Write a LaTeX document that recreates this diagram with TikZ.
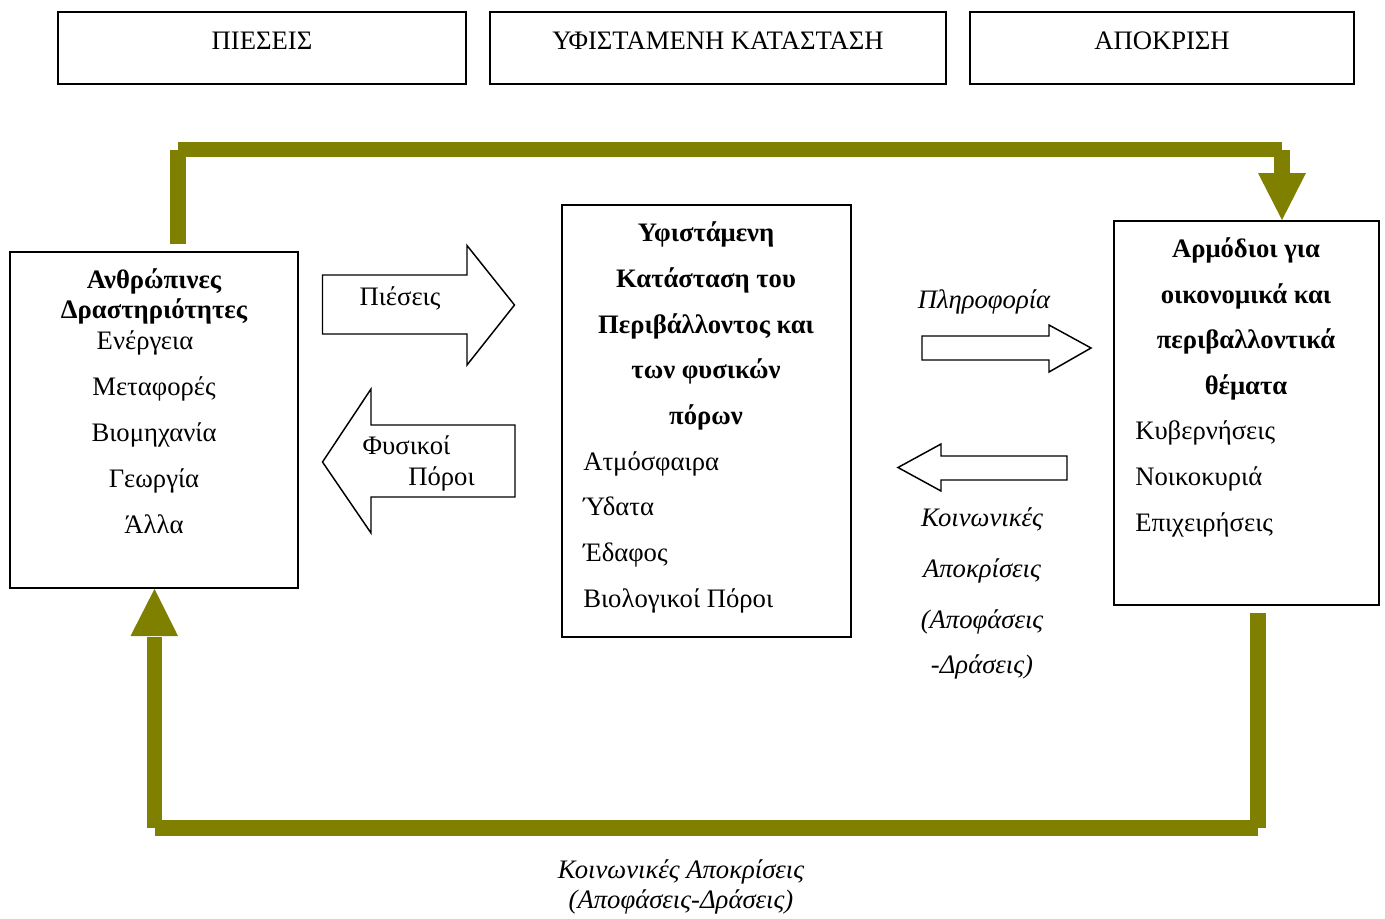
\documentclass[tikz,border=0pt]{standalone}
\usepackage{fontspec}
\setmainfont{Liberation Serif}
\usetikzlibrary{fit}
\definecolor{olivebar}{HTML}{808000}
\tikzset{
  box/.style={draw, line width=1.4pt, inner sep=0pt},
  txt/.style={inner sep=0pt, anchor=base, font=\fontsize{20}{24}\selectfont},
  txtl/.style={txt, anchor=base west},
  btxt/.style={txt, font=\fontsize{20}{24}\selectfont\bfseries},
  itxt/.style={txt, font=\fontsize{20}{24}\selectfont\itshape},
  barA/.style={draw=olivebar, line width=12pt, line cap=butt},
  barB/.style={draw=olivebar, line width=11.25pt, line cap=butt},
  barhead/.style={fill=olivebar, draw=none},
  blockarrow/.style={draw, line width=1.1pt, fill=white, line join=miter},
}
\begin{document}
\begin{tikzpicture}[x=0.75pt,y=-0.75pt]
\useasboundingbox (0,0) rectangle (1385,918);

% header boxes
\node[box, fit={(58,12) (466,84)}] (h1) {};
\node[box, fit={(490,12) (946,84)}] (h2) {};
\node[box, fit={(970,12) (1354,84)}] (h3) {};
\node[txt] (h1t) at (262,49) {ΠΙΕΣΕΙΣ};
\node[txt] (h2t) at (718,49) {ΥΦΙΣΤΑΜΕΝΗ ΚΑΤΑΣΤΑΣΗ};
\node[txt] (h3t) at (1162,49) {ΑΠΟΚΡΙΣΗ};

% main boxes
\node[box, fit={(10,252) (298,588)}] (left) {};
\node[box, fit={(562,205) (851,637)}] (mid) {};
\node[box, fit={(1114,221) (1379,605)}] (right) {};

% left box text
\node[btxt] (l1) at (154,288) {Ανθρώπινες};
\node[btxt] (l2) at (154,318) {Δραστηριότητες};
\node[txt] (l3) at (145,349) {Ενέργεια};
\node[txt] (l4) at (154,395) {Μεταφορές};
\node[txt] (l5) at (154,441) {Βιομηχανία};
\node[txt] (l6) at (154,487) {Γεωργία};
\node[txt] (l7) at (154,533) {Άλλα};

% middle box text
\node[btxt] (m1) at (706,241.5) {Υφιστάμενη};
\node[btxt] (m2) at (706,287.2) {Κατάσταση του};
\node[btxt] (m3) at (706,333) {Περιβάλλοντος και};
\node[btxt] (m4) at (706,378.6) {των φυσικών};
\node[btxt] (m5) at (706,424.3) {πόρων};
\node[txtl] (m6) at (583,470) {Ατμόσφαιρα};
\node[txtl] (m7) at (583,515.7) {Ύδατα};
\node[txtl] (m8) at (583,561.4) {Έδαφος};
\node[txtl] (m9) at (583,607) {Βιολογικοί Πόροι};

% right box text
\node[btxt] (r1) at (1246,257) {Αρμόδιοι για};
\node[btxt] (r2) at (1246,303) {οικονομικά και};
\node[btxt] (r3) at (1246,348.5) {περιβαλλοντικά};
\node[btxt] (r4) at (1246,394) {θέματα};
\node[txtl] (r5) at (1135,439.5) {Κυβερνήσεις};
\node[txtl] (r6) at (1135,485) {Νοικοκυριά};
\node[txtl] (r7) at (1135,531) {Επιχειρήσεις};

% block arrows
\draw[blockarrow] (322.5,275) -- (467,275) -- (467,245.5) -- (514.5,305) -- (467,365) -- (467,334) -- (322.5,334) -- cycle;
\node[txt] (pies) at (400,305) {Πιέσεις};

\draw[blockarrow] (515,425) -- (371,425) -- (371,389) -- (322.5,462) -- (371,533) -- (371,497) -- (515,497) -- cycle;
\node[txt] (fys1) at (406.5,454) {Φυσικοί};
\node[txt] (fys2) at (441.5,485) {Πόροι};

\draw[blockarrow] (922,336) -- (1049,336) -- (1049,325) -- (1091,348) -- (1049,372) -- (1049,360) -- (922,360) -- cycle;
\node[itxt] (info) at (984,308.5) {Πληροφορία};

\draw[blockarrow] (1067,456) -- (941,456) -- (941,444) -- (898,467.5) -- (941,491) -- (941,480) -- (1067,480) -- cycle;
\node[itxt] (k1) at (982,526) {Κοινωνικές};
\node[itxt] (k2) at (982,577) {Αποκρίσεις};
\node[itxt] (k3) at (982,628) {(Αποφάσεις};
\node[itxt] (k4) at (982,673) {-Δράσεις)};

% green feedback connectors
\coordinate (a0) at (178,244);
\coordinate (a1) at (178,149.5);
\coordinate (a2) at (1282,149.5);
\coordinate (a3) at (1282,173.5);
\draw[barA] (a0) -- (a1);
\draw[barB] (a1) -- (a2);
\draw[barA] (a2) -- (a3);
\fill[barhead] (1258,173) -- (1306,173) -- (right.north -| a2) -- cycle;

\coordinate (b0) at (1258,613);
\coordinate (b1) at (1258,828);
\coordinate (b2) at (154.5,828);
\coordinate (b3) at (154.5,636.5);
\draw[barA] (b0) -- (b1);
\draw[barA] (b1) -- (b2);
\draw[barB] (b2) -- (b3);
\fill[barhead] (130.5,636) -- (178,636) -- (left.south -| b2) -- cycle;

\node[itxt] (bt1) at (681,878) {Κοινωνικές Αποκρίσεις};
\node[itxt] (bt2) at (681,908) {(Αποφάσεις-Δράσεις)};
\end{tikzpicture}
\end{document}
